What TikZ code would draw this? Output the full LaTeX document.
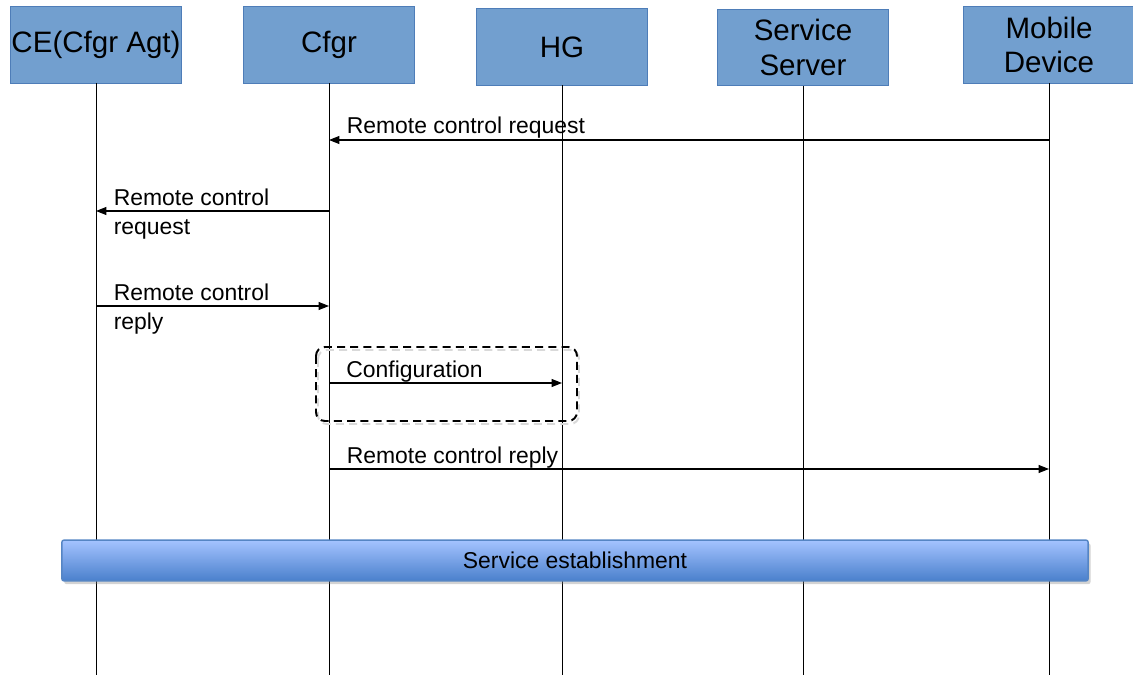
\documentclass[tikz,border=0pt]{standalone}
\usepackage{fontspec}
\setmainfont{Liberation Sans}
\usepackage{xcolor}
\usetikzlibrary{arrows.meta,shadows,positioning}

\definecolor{actorfill}{HTML}{729FCF}
\definecolor{actoredge}{HTML}{4E7DB8}
\definecolor{bartop}{HTML}{A4C3FF}
\definecolor{barbottom}{HTML}{4A80CC}
\definecolor{baredge}{HTML}{5585C4}

\tikzset{
  actor/.style={draw=actoredge, fill=actorfill, line width=0.7pt, inner sep=0pt,
    minimum width=4.25cm, minimum height=1.9cm, align=center,
    font=\fontsize{21}{24.5}\selectfont},
  life/.style={line width=0.6pt},
  msg/.style={line width=0.8pt, -{Triangle[length=0.26cm,width=0.2cm]}},
  lbl/.style={inner sep=0pt, align=left, font=\fontsize{16.3}{20.6}\selectfont},
  dashbox/.style={line width=1.4pt, dash pattern=on 0.2cm off 0.13cm, rounded corners=0.22cm},
  phase/.style={draw=baredge, line width=1pt, top color=bartop, bottom color=barbottom,
    rounded corners=1.5pt, minimum width=25.65cm, minimum height=1.02cm,
    font=\fontsize{16.3}{20}\selectfont,
    drop shadow={opacity=0.35, shadow xshift=0.06cm, shadow yshift=-0.08cm}}
}

\begin{document}
\begin{tikzpicture}[x=0.025cm, y=-0.025cm]
  \useasboundingbox (0,0) rectangle (1133,675);
  %ACTORS
  \node[actor] (ce)   at (96,45)   {CE(Cfgr Agt)};
  \node[actor] (cfgr) at (329,45)  {Cfgr};
  \node[actor] (hg)   at (562,47)  {HG};
  \node[actor] (srv)  at (803,47.5) {\raisebox{-0.05cm}{Service}\\\raisebox{-0.05cm}{Server}};
  \node[actor] (mob)  at (1049,45) {\raisebox{-0.04cm}{Mobile}\\\raisebox{-0.04cm}{Device}};
  %LIFELINES
  \coordinate (bottom) at (0,675);
  \foreach \a in {ce,cfgr,hg,srv,mob}
    \draw[life] (\a.south) -- (\a |- bottom);
  %MESSAGE ROWS
  \coordinate (r1) at (0,140);
  \coordinate (r2) at (0,211);
  \coordinate (r3) at (0,306);
  \coordinate (r4) at (0,383);
  \coordinate (r5) at (0,469);
  \draw[msg] (mob |- r1) -- (cfgr |- r1) node[lbl, at end, above right=0.03cm and 0.43cm] {Remote control request};
  \draw[msg] (cfgr |- r2) -- (ce |- r2) node[lbl, at end, right=0.43cm, yshift=-0.075cm] {Remote control\\request};
  \draw[msg] (ce |- r3) -- (cfgr |- r3) node[lbl, at start, right=0.43cm, yshift=-0.07cm] {Remote control\\reply};
  \draw[msg] (cfgr |- r4) -- (hg |- r4) node[lbl, at start, above right=0cm and 0.42cm] {Configuration};
  \draw[msg] (cfgr |- r5) -- (mob |- r5) node[lbl, at start, above right=0.01cm and 0.43cm] {Remote control reply};
  %CONFIG BOX
  \draw[dashbox, black!15] (318,350) rectangle (579,424);
  \draw[dashbox] (316,347) rectangle (577,421);
  %SERVICE
  \node[phase] (est) at (575,560.5) {Service establishment};
\end{tikzpicture}
\end{document}
